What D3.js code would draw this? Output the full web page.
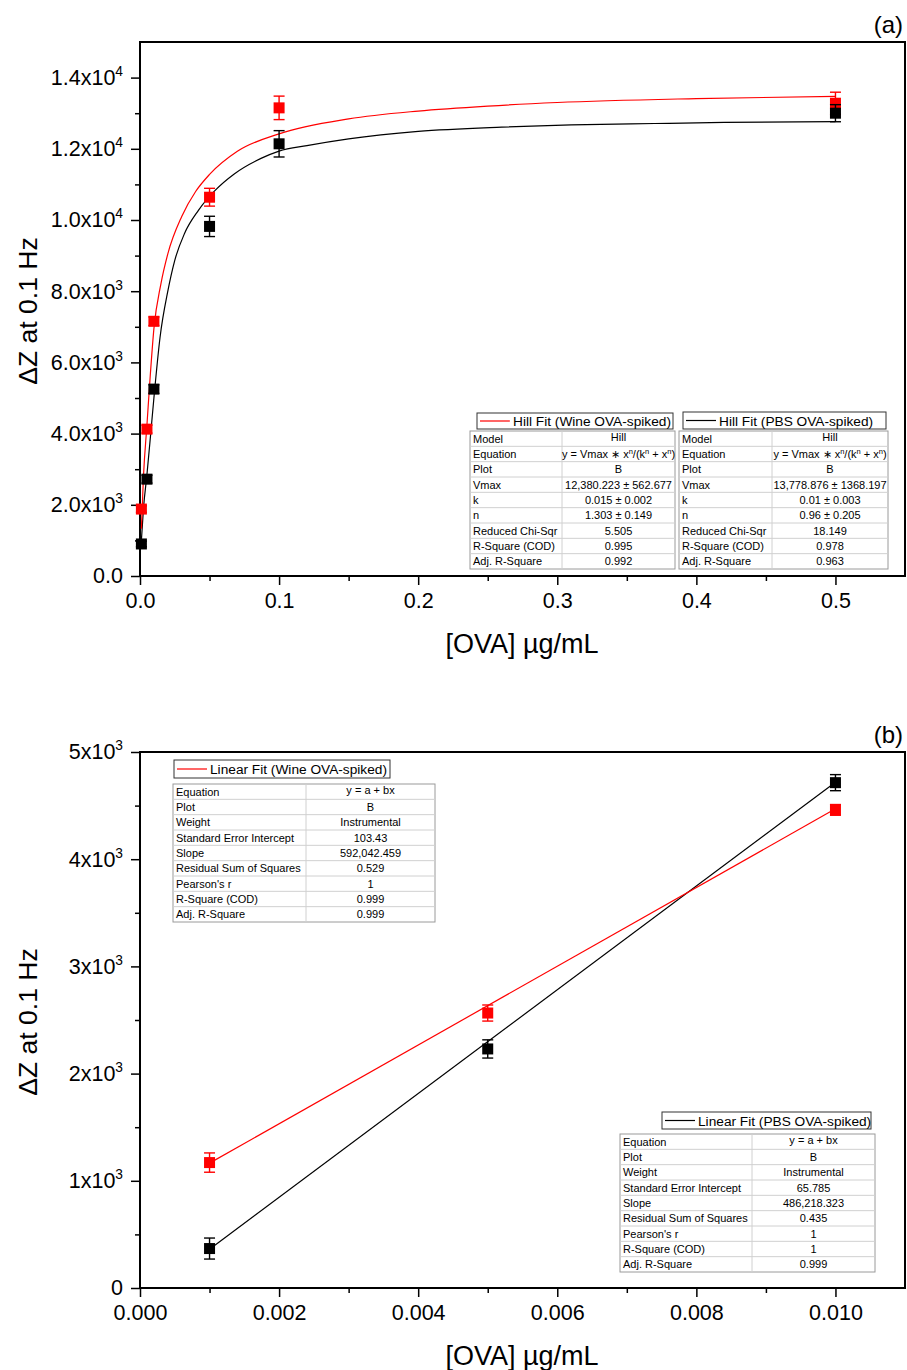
<!DOCTYPE html>
<html>
<head>
<meta charset="utf-8">
<script src="https://cdn.jsdelivr.net/npm/d3@7"></script>
<style>
  body { margin: 0; background: #fff; }
  svg { display: block; font-family: "Liberation Sans", Arial, sans-serif; }
</style>
</head>
<body>
<div id="chart"></div>
<script>
// ---- panel (a) data: Hill fits ----
const ovaA = [0.001, 0.005, 0.01, 0.05, 0.1, 0.5];
const wineA = [1880, 4125, 7155, 10640, 13150, 13280];
const wineErrA = [90, 110, 120, 250, 330, 310];
const pbsA = [900, 2720, 5250, 9820, 12140, 13000];
const pbsErrA = [80, 110, 120, 285, 370, 240];

// fitted curves
const hillWineX = [0.001, 0.0025, 0.005, 0.0075, 0.01, 0.015, 0.02, 0.03, 0.04, 0.05, 0.07, 0.1, 0.15, 0.2, 0.25, 0.3, 0.4, 0.5];
const hillWineY = [1330, 2800, 4250, 5700, 6950, 8200, 9050, 10100, 10800, 11280, 11930, 12420, 12840, 13060, 13200, 13300, 13410, 13475];
const hillPbsX = [0.001, 0.0025, 0.005, 0.0077, 0.01, 0.0144, 0.02, 0.025, 0.032, 0.042, 0.054, 0.068, 0.087, 0.1, 0.12, 0.15, 0.2, 0.26, 0.31, 0.37, 0.42, 0.5];
const hillPbsY = [1000, 1900, 2850, 4000, 5000, 6700, 8000, 8866, 9620, 10270, 10830, 11300, 11730, 11935, 12090, 12280, 12490, 12610, 12670, 12710, 12740, 12765];

const xTicksA = [0, 0.1, 0.2, 0.3, 0.4, 0.5];
const xLabelsA = ["0.0", "0.1", "0.2", "0.3", "0.4", "0.5"];
const yTicksA = [0, 2000, 4000, 6000, 8000, 10000, 12000, 14000];
const yLabelsA = ["0.0", "2.0x10^3", "4.0x10^3", "6.0x10^3", "8.0x10^3", "1.0x10^4", "1.2x10^4", "1.4x10^4"];

// ---- panel (b) data: linear fits ----
const ovaB = [0.001, 0.005, 0.01];
const wineB = [1170, 2565, 4460];
const wineErrB = [90, 75, 50];
const pbsB = [368, 2230, 4714];
const pbsErrB = [98, 85, 75];
const linWineX = [0.001, 0.01];
const linWineY = [1165, 4470];
const linPbsX = [0.001, 0.01];
const linPbsY = [362, 4718];

const xTicksB = [0, 0.002, 0.004, 0.006, 0.008, 0.01];
const xLabelsB = ["0.000", "0.002", "0.004", "0.006", "0.008", "0.010"];
const yTicksB = [0, 1000, 2000, 3000, 4000, 5000];
const yLabelsB = ["0", "1x10^3", "2x10^3", "3x10^3", "4x10^3", "5x10^3"];

// ---- fit report tables ----
const EQ_HILL = [["y = Vmax \u2217 x"], ["n", 1], ["/(k"], ["n", 1], [" + x"], ["n", 1], [")"]];
const hillWineRows = [
  ["Model", "Hill"], ["Equation", EQ_HILL], ["Plot", "B"],
  ["Vmax", "12,380.223 \u00b1 562.677"], ["k", "0.015 \u00b1 0.002"], ["n", "1.303 \u00b1 0.149"],
  ["Reduced Chi-Sqr", "5.505"], ["R-Square (COD)", "0.995"], ["Adj. R-Square", "0.992"]
];
const hillPbsRows = [
  ["Model", "Hill"], ["Equation", EQ_HILL], ["Plot", "B"],
  ["Vmax", "13,778.876 \u00b1 1368.197"], ["k", "0.01 \u00b1 0.003"], ["n", "0.96 \u00b1 0.205"],
  ["Reduced Chi-Sqr", "18.149"], ["R-Square (COD)", "0.978"], ["Adj. R-Square", "0.963"]
];
const linWineRows = [
  ["Equation", "y = a + bx"], ["Plot", "B"], ["Weight", "Instrumental"],
  ["Standard Error Intercept", "103.43"], ["Slope", "592,042.459"], ["Residual Sum of Squares", "0.529"],
  ["Pearson's r", "1"], ["R-Square (COD)", "0.999"], ["Adj. R-Square", "0.999"]
];
const linPbsRows = [
  ["Equation", "y = a + bx"], ["Plot", "B"], ["Weight", "Instrumental"],
  ["Standard Error Intercept", "65.785"], ["Slope", "486,218.323"], ["Residual Sum of Squares", "0.435"],
  ["Pearson's r", "1"], ["R-Square (COD)", "1"], ["Adj. R-Square", "0.999"]
];

const RED = "#ff0000";
const BLACK = "#000000";

const svg = d3.select("#chart").append("svg")
  .attr("width", 907)
  .attr("height", 1370);

function supLabel(sel, str, sz) {
  // "1.2x10^4" -> mantissa + raised exponent
  const parts = str.split("^");
  sel.text(null);
  sel.append("tspan").text(parts[0]);
  if (parts[1]) {
    sel.append("tspan").attr("dy", -0.42 * sz).attr("font-size", sz * 0.64).text(parts[1]);
  }
}

function drawPanel(o) {
  const g = svg.append("g");
  const x = d3.scaleLinear().domain(o.xDomain).range([o.x0, o.x1]);
  const y = d3.scaleLinear().domain(o.yDomain).range([o.y1, o.y0]);

  const clipId = "clip-" + o.name;
  g.append("clipPath").attr("id", clipId)
    .append("rect").attr("x", o.x0).attr("y", o.y0)
    .attr("width", o.x1 - o.x0).attr("height", o.y1 - o.y0);

  // minor ticks
  g.append("g").attr("transform", `translate(0,${o.y1})`)
    .call(d3.axisBottom(x).tickValues(o.xMinor).tickSize(5).tickFormat(""))
    .call(a => a.select(".domain").remove())
    .call(a => a.selectAll("line").attr("stroke-width", 1.5));
  g.append("g").attr("transform", `translate(${o.x0},0)`)
    .call(d3.axisLeft(y).tickValues(o.yMinor).tickSize(5).tickFormat(""))
    .call(a => a.select(".domain").remove())
    .call(a => a.selectAll("line").attr("stroke-width", 1.5));

  // major ticks + labels
  const fs = 21.5;
  g.append("g").attr("transform", `translate(0,${o.y1})`)
    .call(d3.axisBottom(x).tickValues(o.xTicks).tickSize(9).tickPadding(8)
      .tickFormat((d, i) => o.xLabels[i]))
    .call(a => a.select(".domain").remove())
    .call(a => a.selectAll("line").attr("stroke-width", 1.5))
    .attr("font-size", fs).attr("font-family", "Liberation Sans, Arial, sans-serif");
  g.append("g").attr("transform", `translate(${o.x0},0)`)
    .call(d3.axisLeft(y).tickValues(o.yTicks).tickSize(9).tickPadding(8)
      .tickFormat((d, i) => o.yLabels[i]))
    .call(a => a.select(".domain").remove())
    .call(a => a.selectAll("line").attr("stroke-width", 1.5))
    .attr("font-size", fs).attr("font-family", "Liberation Sans, Arial, sans-serif")
    .call(a => a.selectAll(".tick text").each(function (d, i) {
      supLabel(d3.select(this), o.yLabels[i], fs);
    }));

  // frame
  g.append("rect")
    .attr("x", o.x0).attr("y", o.y0)
    .attr("width", o.x1 - o.x0).attr("height", o.y1 - o.y0)
    .attr("fill", "none").attr("stroke", "#000").attr("stroke-width", 2);

  // axis titles
  g.append("text")
    .attr("transform", `translate(${o.x0 - 103},${(o.y0 + o.y1) / 2 + 2}) rotate(-90)`)
    .attr("text-anchor", "middle").attr("font-size", 26.5)
    .text("\u0394Z at 0.1 Hz");
  g.append("text")
    .attr("x", 522).attr("y", o.y1 + 77)
    .attr("text-anchor", "middle").attr("font-size", 27)
    .text("[OVA] \u00b5g/mL");
  g.append("text")
    .attr("x", 903).attr("y", o.y0 - 9)
    .attr("text-anchor", "end").attr("font-size", 24)
    .text(o.tag);

  // fit curves
  const plot = g.append("g").attr("clip-path", `url(#${clipId})`);
  const line = d3.line().x(d => x(d[0])).y(d => y(d[1])).curve(d3.curveMonotoneX);
  o.fits.forEach(f => {
    plot.append("path")
      .datum(d3.zip(f.xs, f.ys))
      .attr("d", line)
      .attr("fill", "none").attr("stroke", f.color).attr("stroke-width", 1.2);
  });

  // data points with error bars (drawn over the frame, like the original)
  const ms = 11;
  o.series.forEach(s => {
    const pts = d3.zip(o.xs, s.ys, s.err);
    const sg = g.append("g");
    const eb = sg.selectAll("g.eb").data(pts).join("g").attr("class", "eb")
      .attr("stroke", s.color).attr("stroke-width", 1.4);
    eb.append("line")
      .attr("x1", d => x(d[0])).attr("x2", d => x(d[0]))
      .attr("y1", d => y(d[1] - d[2])).attr("y2", d => y(d[1] + d[2]));
    eb.append("line")
      .attr("x1", d => x(d[0]) - ms / 2).attr("x2", d => x(d[0]) + ms / 2)
      .attr("y1", d => y(d[1] + d[2])).attr("y2", d => y(d[1] + d[2]));
    eb.append("line")
      .attr("x1", d => x(d[0]) - ms / 2).attr("x2", d => x(d[0]) + ms / 2)
      .attr("y1", d => y(d[1] - d[2])).attr("y2", d => y(d[1] - d[2]));
    sg.selectAll("rect").data(pts).join("rect")
      .attr("x", d => x(d[0]) - ms / 2).attr("y", d => y(d[1]) - ms / 2)
      .attr("width", ms).attr("height", ms)
      .attr("fill", s.color);
  });

  o.tables.forEach(t => drawTable(g, t));
}

function drawTable(g, t) {
  const tg = g.append("g");
  // legend box
  tg.append("rect")
    .attr("x", t.lx0).attr("y", t.ly0)
    .attr("width", t.lx1 - t.lx0).attr("height", t.ly1 - t.ly0)
    .attr("fill", "#fff").attr("stroke", "#333").attr("stroke-width", 1);
  const ly = (t.ly0 + t.ly1) / 2;
  tg.append("line")
    .attr("x1", t.lx0 + 3).attr("x2", t.lx0 + 33)
    .attr("y1", ly).attr("y2", ly)
    .attr("stroke", t.color).attr("stroke-width", 1.2);
  tg.append("text")
    .attr("x", t.lx0 + 36).attr("y", ly + 5)
    .attr("font-size", 13.7)
    .text(t.title);

  // table body
  const rh = (t.y1 - t.y0) / t.rows.length;
  tg.append("rect")
    .attr("x", t.x0).attr("y", t.y0)
    .attr("width", t.x1 - t.x0).attr("height", t.y1 - t.y0)
    .attr("fill", "#fff").attr("stroke", "#9a9a9a").attr("stroke-width", 1);
  tg.selectAll("line.rl").data(d3.range(1, t.rows.length)).join("line")
    .attr("class", "rl")
    .attr("x1", t.x0).attr("x2", t.x1)
    .attr("y1", i => t.y0 + i * rh).attr("y2", i => t.y0 + i * rh)
    .attr("stroke", "#d0d0d0").attr("stroke-width", 1);
  tg.append("line")
    .attr("x1", t.xs).attr("x2", t.xs)
    .attr("y1", t.y0).attr("y2", t.y1)
    .attr("stroke", "#d0d0d0").attr("stroke-width", 1);

  t.rows.forEach((r, i) => {
    const by = t.y0 + i * rh + rh / 2 + 4;
    tg.append("text")
      .attr("x", t.x0 + 3).attr("y", by)
      .attr("font-size", 11).text(r[0]);
    const v = tg.append("text")
      .attr("x", (t.xs + t.x1) / 2).attr("y", by - (i === 0 ? 2 : 0))
      .attr("text-anchor", "middle").attr("font-size", 11);
    if (Array.isArray(r[1])) {
      let up = false;
      r[1].forEach(seg => {
        const ts = v.append("tspan").text(seg[0]);
        if (seg[1] && !up) { ts.attr("dy", -4).attr("font-size", 7.5); up = true; }
        else if (!seg[1] && up) { ts.attr("dy", 4); up = false; }
      });
    } else {
      v.text(r[1]);
    }
  });
}

drawPanel({
  name: "a", tag: "(a)",
  x0: 140, x1: 905, y0: 42, y1: 576,
  xDomain: [0, 0.55], yDomain: [0, 15000],
  xTicks: xTicksA, xLabels: xLabelsA,
  xMinor: [0.05, 0.15, 0.25, 0.35, 0.45],
  yTicks: yTicksA, yLabels: yLabelsA,
  yMinor: [1000, 3000, 5000, 7000, 9000, 11000, 13000],
  xs: ovaA,
  fits: [
    { xs: hillPbsX, ys: hillPbsY, color: BLACK },
    { xs: hillWineX, ys: hillWineY, color: RED }
  ],
  series: [
    { ys: wineA, err: wineErrA, color: RED },
    { ys: pbsA, err: pbsErrA, color: BLACK }
  ],
  tables: [
    { title: "Hill Fit (Wine OVA-spiked)", color: RED, rows: hillWineRows,
      lx0: 477, lx1: 673, ly0: 413, ly1: 429,
      x0: 470, x1: 675, y0: 431, y1: 569, xs: 562 },
    { title: "Hill Fit (PBS OVA-spiked)", color: BLACK, rows: hillPbsRows,
      lx0: 683, lx1: 886, ly0: 412, ly1: 429,
      x0: 679, x1: 888, y0: 431, y1: 569, xs: 772 }
  ]
});

drawPanel({
  name: "b", tag: "(b)",
  x0: 140, x1: 905, y0: 752, y1: 1288,
  xDomain: [0, 0.011], yDomain: [0, 5000],
  xTicks: xTicksB, xLabels: xLabelsB,
  xMinor: [0.001, 0.003, 0.005, 0.007, 0.009],
  yTicks: yTicksB, yLabels: yLabelsB,
  yMinor: [500, 1500, 2500, 3500, 4500],
  xs: ovaB,
  fits: [
    { xs: linPbsX, ys: linPbsY, color: BLACK },
    { xs: linWineX, ys: linWineY, color: RED }
  ],
  series: [
    { ys: wineB, err: wineErrB, color: RED },
    { ys: pbsB, err: pbsErrB, color: BLACK }
  ],
  tables: [
    { title: "Linear Fit (Wine OVA-spiked)", color: RED, rows: linWineRows,
      lx0: 174, lx1: 390, ly0: 760, ly1: 778,
      x0: 173, x1: 435, y0: 784, y1: 922, xs: 306 },
    { title: "Linear Fit (PBS OVA-spiked)", color: BLACK, rows: linPbsRows,
      lx0: 662, lx1: 871, ly0: 1112, ly1: 1129,
      x0: 620, x1: 875, y0: 1134, y1: 1272, xs: 752 }
  ]
});
</script>
</body>
</html>
